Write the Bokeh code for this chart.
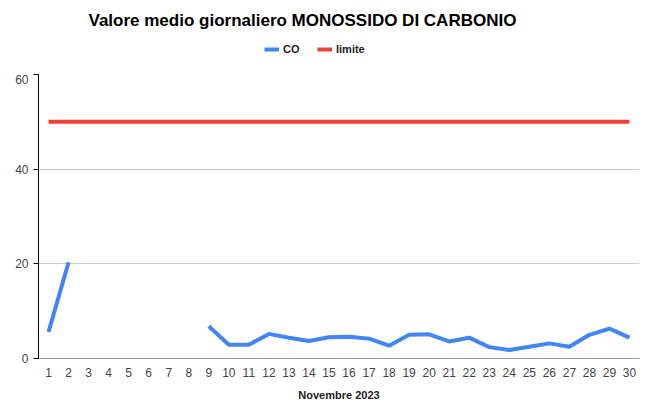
import math
from bokeh.plotting import figure
from bokeh.layouts import column
from bokeh.models import Legend, LegendItem, FixedTicker, ColumnDataSource, Range1d
from bokeh.core.properties import value
from bokeh.embed import file_html
from bokeh.resources import INLINE

nan = float("nan")

days = list(range(1, 31))
co = [5.6, 20.3, nan, nan, nan, nan, nan, nan, 6.8, 2.9, 2.9, 5.2, 4.4, 3.7, 4.5,
      4.6, 4.2, 2.7, 5.0, 5.1, 3.6, 4.4, 2.4, 1.8, 2.5, 3.2, 2.5, 5.0, 6.3, 4.4]
limite = [50] * 30
y_ticks = [0, 20, 40, 60]

title_text = "Valore medio giornaliero MONOSSIDO DI CARBONIO"
x_label = "Novembre 2023"
series_names = ["CO", "limite"]
colors = ["#4285F4", "#EA4335"]

FONT = "Liberation Sans"
W = 652
HEAD_H = 74
LEFT = 38
RIGHT = 13

# ---- header (title + legend) ----
head = figure(width=W, height=HEAD_H, x_range=Range1d(LEFT, W - RIGHT), y_range=Range1d(HEAD_H, 0),
              x_axis_type=None, y_axis_type=None, output_backend="svg",
              toolbar_location=None, min_border_left=LEFT, min_border_right=RIGHT,
              min_border_top=0, min_border_bottom=0, outline_line_color=None)
head.grid.grid_line_color = None
head.text(x=[88], y=[20], text=[title_text], text_font=value(FONT),
          text_font_size="17px", text_font_style="bold", text_color="#000000",
          text_baseline="middle", text_align="left")
# legend proxies (no visible data)
h_co = head.line(x=[nan, nan], y=[nan, nan], line_color=colors[0], line_width=4)
h_lim = head.line(x=[nan, nan], y=[nan, nan], line_color=colors[1], line_width=4)
legend = Legend(items=[LegendItem(label=series_names[0], renderers=[h_co]),
                       LegendItem(label=series_names[1], renderers=[h_lim])],
                location=(264 - LEFT, 19), orientation="horizontal",
                glyph_width=15, glyph_height=12, label_height=12,
                label_standoff=4, spacing=14, padding=0, margin=0,
                border_line_color=None, background_fill_alpha=0,
                label_text_font=FONT, label_text_font_size="11px",
                label_text_font_style="bold", label_text_color="#222222")
head.add_layout(legend, "center")

# ---- main chart ----
src = ColumnDataSource(dict(day=days, co=co, limite=limite))

p = figure(width=W, height=403 - HEAD_H, x_range=(0.5, 30.5), y_range=(0, 60),
           title=None, output_backend="svg", toolbar_location=None,
           min_border_left=LEFT, min_border_right=RIGHT, min_border_top=0, min_border_bottom=45)

p.line("day", "co", source=src, line_color=colors[0], line_width=4)
p.line("day", "limite", source=src, line_color=colors[1], line_width=4)

p.outline_line_color = None
p.xgrid.grid_line_color = None
p.ygrid.grid_line_color = "#cccccc"
p.ygrid.grid_line_width = 1

p.yaxis.ticker = FixedTicker(ticks=y_ticks)
p.yaxis.axis_line_color = "#000000"
p.yaxis.major_tick_line_color = "#000000"
p.yaxis.major_tick_out = 5
p.yaxis.major_tick_in = 0
p.yaxis.minor_tick_line_color = None
p.yaxis.major_label_standoff = 5
p.yaxis.major_label_text_font = FONT
p.yaxis.major_label_text_font_size = "12px"
p.yaxis.major_label_text_color = "#444444"

p.xaxis.ticker = FixedTicker(ticks=days)
p.xaxis.axis_line_color = "#999999"
p.xaxis.major_tick_line_color = None
p.xaxis.major_tick_out = 0
p.xaxis.major_tick_in = 0
p.xaxis.minor_tick_line_color = None
p.xaxis.major_label_standoff = 9
p.xaxis.major_label_text_font = FONT
p.xaxis.major_label_text_font_size = "12px"
p.xaxis.major_label_text_color = "#444444"
p.xaxis.axis_label = x_label
p.xaxis.axis_label_text_font = FONT
p.xaxis.axis_label_text_font_size = "11px"
p.xaxis.axis_label_text_font_style = "bold"
p.xaxis.axis_label_text_color = "#222222"
p.xaxis.axis_label_standoff = 9

layout = column(head, p, spacing=0)
open("out.html", "w").write(file_html(layout, INLINE))
